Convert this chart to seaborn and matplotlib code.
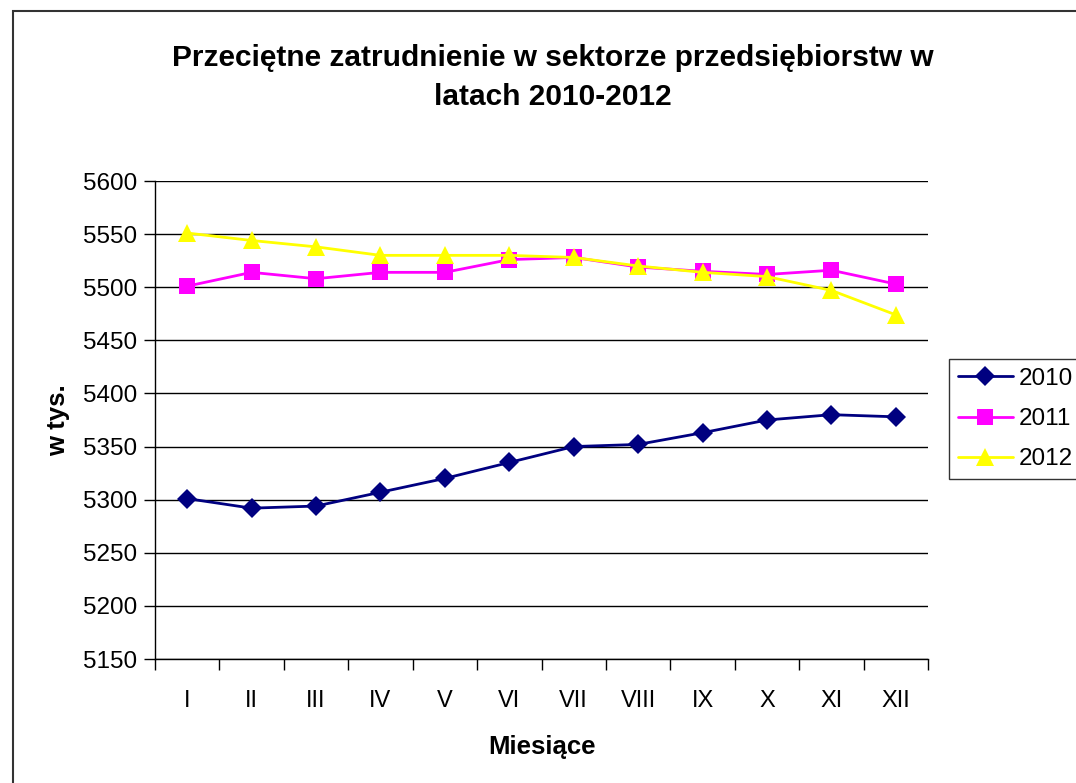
import matplotlib
matplotlib.use("Agg")
import matplotlib.pyplot as plt
import seaborn as sns
import pandas as pd
import numpy as np
from matplotlib.patches import Rectangle
from matplotlib.ticker import FixedLocator
from matplotlib.lines import Line2D

months = ["I", "II", "III", "IV", "V", "VI", "VII", "VIII", "IX", "X", "XI", "XII"]
years = ["2010", "2011", "2012"]
v2010 = [5301, 5292, 5294, 5307, 5320, 5335, 5350, 5352, 5363, 5375, 5380, 5378]
v2011 = [5501, 5514, 5508, 5514, 5514, 5526, 5528, 5519, 5515, 5512, 5516, 5503]
v2012 = [5551, 5544, 5538, 5530, 5530, 5530, 5528, 5520, 5514, 5510, 5497, 5474]
yticks = list(range(5150, 5601, 50))

colors = {"2010": "#000080", "2011": "#FF00FF", "2012": "#FFFF00"}
markers = {"2010": "D", "2011": "s", "2012": "^"}
msizes = {"2010": 10, "2011": 11, "2012": 13}

rows = []
for y, vals in zip(years, [v2010, v2011, v2012]):
    for i, v in enumerate(vals):
        rows.append({"idx": i, "val": v, "year": y})
df = pd.DataFrame(rows)

sns.set_style("white")
plt.rcParams["font.family"] = ["Liberation Sans", "DejaVu Sans"]
plt.rcParams["text.color"] = "black"
plt.rcParams["axes.labelcolor"] = "black"
plt.rcParams["xtick.color"] = "black"
plt.rcParams["ytick.color"] = "black"

fig = plt.figure(figsize=(10.76, 7.83), dpi=100)
ax = fig.add_axes([155/1076, 1 - 659/783, (928-155)/1076, (659-181)/783])

for y in years:
    sub = df[df["year"] == y]
    sns.lineplot(data=sub, x="idx", y="val", color=colors[y], marker=markers[y],
                 ax=ax, linewidth=2, markersize=msizes[y], markeredgewidth=0,
                 legend=False, zorder=3)

ax.set_xlim(-0.5, 11.5)
ax.set_ylim(5150, 5600)
ax.set_yticks(yticks)
ax.set_yticklabels([str(t) for t in yticks], fontsize=17.5)
ax.yaxis.grid(True, color="black", linewidth=1)
ax.xaxis.grid(False)
ax.set_axisbelow(True)

ax.set_xticks(range(12))
ax.set_xticklabels(months, fontsize=17)
ax.xaxis.set_minor_locator(FixedLocator(np.arange(-0.5, 12, 1)))
ax.tick_params(axis="x", which="major", length=0, pad=22, bottom=True)
ax.tick_params(axis="x", which="minor", length=8, width=1, color="black",
               direction="out", bottom=True)
ax.tick_params(axis="y", which="major", length=8, width=1, color="black",
               direction="out", pad=5, left=True)

for s in ["top", "right"]:
    ax.spines[s].set_visible(False)
for s in ["left", "bottom"]:
    ax.spines[s].set_color("black")
    ax.spines[s].set_linewidth(1)

ax.set_xlabel("Miesiące", fontsize=18.5, fontweight="bold", labelpad=17)
ax.set_ylabel("w tys.", fontsize=18.5, fontweight="bold", labelpad=9)

fig.text(553/1076, 1 - 58/783, "Przeciętne zatrudnienie w sektorze przedsiębiorstw w",
         ha="center", va="center", fontsize=21.5, fontweight="bold")
fig.text(553/1076, 1 - 97/783, "latach 2010-2012",
         ha="center", va="center", fontsize=21.5, fontweight="bold")

handles = [Line2D([0], [0], color=colors[y], marker=markers[y], markersize=msizes[y],
                  markeredgewidth=0, linewidth=2) for y in years]
leg = fig.legend(handles, years, loc="center left",
                 bbox_to_anchor=(949/1076, 1 - 419/783), fontsize=17.5,
                 frameon=True, fancybox=False, edgecolor="black",
                 handlelength=2.3, handletextpad=0.2, borderpad=0.35,
                 labelspacing=0.75, borderaxespad=0)
leg.get_frame().set_linewidth(1)

fig.patches.append(Rectangle((13/1076, -0.1), 1.2, 1 - 11/783 + 0.1,
                             transform=fig.transFigure, fill=False,
                             edgecolor="#333333", linewidth=1.5))

fig.savefig("out.png", dpi=100)
